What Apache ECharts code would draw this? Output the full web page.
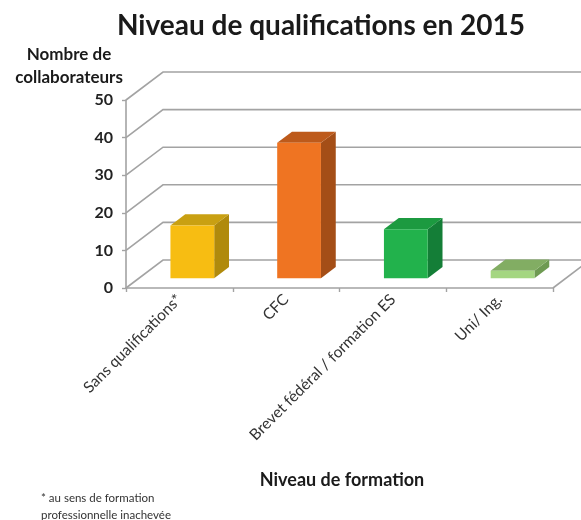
<!DOCTYPE html>
<html lang="fr">
<head>
<meta charset="UTF-8">
<title>Niveau de qualifications en 2015</title>
<script src="https://cdn.jsdelivr.net/npm/echarts@6/dist/echarts.min.js"></script>
<style>
    html, body { margin: 0; padding: 0; background: #fff; }
    #box { width: 581px; height: 520px; }
</style>
</head>
<body>
<div id="box"></div>
<script>
var categories = ['Sans qualifications*', 'CFC', 'Brevet fédéral / formation ES', 'Uni/ Ing.'];
var collaborateurs = [14, 36, 13, 2];
var yTicks = [0, 10, 20, 30, 40, 50];

// couleurs des faces (avant / côté / dessus)
var barColors = [
    { front: '#f7bd12', side: '#b08a0c', top: '#c9a012' },
    { front: '#ef7422', side: '#a44e17', top: '#bd5a1b' },
    { front: '#22b24c', side: '#147e37', top: '#1c9a40' },
    { front: '#a4d681', side: '#6e9a52', top: '#82ad63' }
];

var depth = [37, -28];   // profondeur du "plancher" en pixels
var gridColor = '#a3a3a3';
var font = 'Lato, "Open Sans", sans-serif';

function renderWall(params, api) {
    var cs = params.coordSys;
    var v = api.value(1);
    var y = api.coord([0, v])[1];
    var x0 = cs.x, x1 = cs.x + cs.width;
    var children = [{
        type: 'polyline',
        shape: { points: [[x0, y], [x0 + depth[0], y + depth[1]], [x1 + depth[0], y + depth[1]]] },
        style: { stroke: gridColor, lineWidth: 1.6, fill: 'none' }
    }];
    if (v === 0) {
        // bord droit du plancher
        children.push({
            type: 'line',
            shape: { x1: x1, y1: y, x2: x1 + depth[0], y2: y + depth[1] },
            style: { stroke: gridColor, lineWidth: 1.6 }
        });
    }
    return { type: 'group', children: children };
}

function renderBar(params, api) {
    var i = api.value(0);
    var v = api.value(1);
    var base = api.coord([i, 0]);
    var top = api.coord([i, v]);
    var w = api.size([1, 0])[0] * 0.41;
    var f = 0.35, b = 0.75;
    var fx = base[0] + depth[0] * f - w / 2;
    var fy0 = base[1] + depth[1] * f;
    var fy1 = top[1] + depth[1] * f;
    var bx = depth[0] * (b - f), by = depth[1] * (b - f);
    var c = barColors[i];
    return {
        type: 'group',
        children: [
            {
                type: 'polygon',
                shape: { points: [[fx + w, fy0], [fx + w + bx, fy0 + by], [fx + w + bx, fy1 + by], [fx + w, fy1]] },
                style: { fill: c.side }
            },
            {
                type: 'polygon',
                shape: { points: [[fx, fy1], [fx + w, fy1], [fx + w + bx, fy1 + by], [fx + bx, fy1 + by]] },
                style: { fill: c.top }
            },
            {
                type: 'polygon',
                shape: { points: [[fx, fy0], [fx + w, fy0], [fx + w, fy1], [fx, fy1]] },
                style: { fill: c.front }
            }
        ]
    };
}

var myChart = echarts.init(document.getElementById('box'));
var option = {
    backgroundColor: '#fff',
    animation: false,
    title: [
        {
            text: 'Niveau de qualifications en 2015',
            left: 316, top: 7, textAlign: 'center',
            textStyle: { fontFamily: font, fontSize: 28, fontWeight: 'bold', color: '#1a1a1a' }
        },
        {
            text: 'Nombre de\ncollaborateurs',
            left: 64, top: 38, textAlign: 'center',
            textStyle: { fontFamily: font, fontSize: 17, fontWeight: 'bold', color: '#1a1a1a', lineHeight: 23 }
        },
        {
            text: 'Niveau de formation',
            left: 337, top: 466, textAlign: 'center',
            textStyle: { fontFamily: font, fontSize: 18, fontWeight: 'bold', color: '#1a1a1a' }
        },
        {
            text: '* au sens de formation\nprofessionnelle inachevée',
            left: 36, top: 485,
            textStyle: { fontFamily: font, fontSize: 11.5, fontWeight: 'normal', color: '#333', lineHeight: 17 }
        }
    ],
    grid: { left: 126, right: 28, top: 100, bottom: 232 },
    xAxis: {
        type: 'category',
        data: categories,
        axisLine: { lineStyle: { color: gridColor, width: 1.6 } },
        axisTick: { show: true, length: 4, lineStyle: { color: gridColor, width: 1.4 } },
        axisLabel: { rotate: 45, interval: 0, margin: 9, fontSize: 15.5, color: '#333', fontFamily: font },
        splitLine: { show: false }
    },
    yAxis: {
        type: 'value',
        min: 0, max: 50, interval: 10,
        axisLine: { show: true, lineStyle: { color: gridColor, width: 1.6 } },
        axisTick: { show: true, length: 4, lineStyle: { color: gridColor, width: 1.4 } },
        axisLabel: { margin: 13, fontSize: 16, fontWeight: 'bold', color: '#222', fontFamily: font },
        splitLine: { show: false }
    },
    series: [
        {
            type: 'custom',
            name: 'mur',
            clip: false,
            z: 1,
            silent: true,
            renderItem: renderWall,
            encode: { x: 0, y: 1 },
            data: yTicks.map(function (v) { return [0, v]; })
        },
        {
            type: 'custom',
            name: 'Nombre de collaborateurs',
            clip: false,
            z: 2,
            renderItem: renderBar,
            encode: { x: 0, y: 1 },
            data: collaborateurs.map(function (v, i) { return [i, v]; })
        }
    ]
};
myChart.setOption(option);
</script>
</body>
</html>
